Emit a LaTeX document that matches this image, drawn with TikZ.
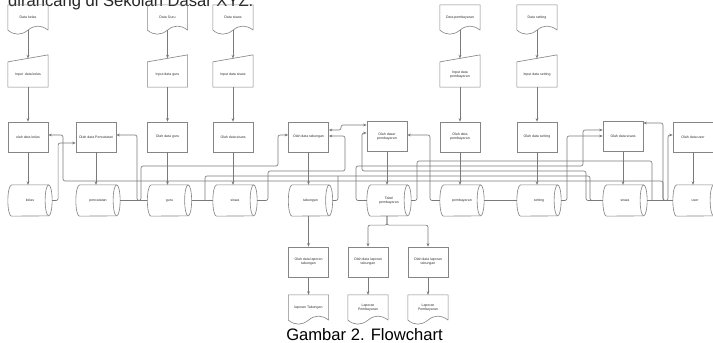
\documentclass[tikz,border=0pt]{standalone}
\usepackage{fontspec}
\setmainfont{Liberation Sans}
\usetikzlibrary{arrows.meta,calc}
\definecolor{shpcol}{HTML}{858585}
\definecolor{lncol}{HTML}{7A7A7A}
\definecolor{txtcol}{HTML}{333333}
\tikzset{
  shp/.style={draw=shpcol, line width=0.9pt},
  txt/.style={font=\fontsize{5}{5.8}\selectfont, text=txtcol, align=center, inner sep=0pt},
  proc/.style={shp, txt, minimum width=2cm, minimum height=1.5cm},
  docnode/.style={txt, minimum width=2cm, minimum height=1.25cm},
  minp/.style={txt, minimum width=2cm, minimum height=1.25cm},
  cyl/.style={txt, minimum width=2.2cm, minimum height=1.55cm},
  conn/.style={draw=lncol, line width=0.9pt, rounded corners=0.1cm, -{Stealth[length=5pt,width=4pt]}},
  link/.style={draw=lncol, line width=0.9pt, rounded corners=0.1cm},
  bigtxt/.style={inner sep=0pt, font=\fontsize{23.6}{28}\selectfont}
}
\newcommand{\docshape}[1]{\draw[shp] (#1.south east) -- (#1.north east) -- (#1.north west) -- (#1.south west) .. controls ($(#1.south west)+(6.67,5.4)$) and ($(#1.south west)+(13.33,5.4)$) .. (#1.south) .. controls ($(#1.south west)+(26.67,-5.4)$) and ($(#1.south west)+(33.33,-5.4)$) .. (#1.south east);}
\newcommand{\minshape}[1]{\draw[shp] (#1.south west) -- (#1.north west) -- ($(#1.north east)+(0,-7)$) -- (#1.south east) -- cycle;}
\newcommand{\cylshape}[1]{\draw[shp] ($(#1.north west)+(3.5,0)$) -- ($(#1.north east)+(-3.5,0)$) arc[start angle=90,end angle=-90,x radius=0.175cm,y radius=0.775cm] -- ($(#1.south west)+(3.5,0)$) arc[start angle=270,end angle=90,x radius=0.175cm,y radius=0.775cm] -- cycle;
\draw[shp] ($(#1.north east)+(-3.5,0)$) arc[start angle=90,end angle=270,x radius=0.175cm,y radius=0.775cm];}
\begin{document}
\begin{tikzpicture}[x=0.05cm,y=-0.05cm]
\useasboundingbox (0,0) rectangle (713,343);
\fill[white] (0,0) rectangle (713,343);
\node[bigtxt, anchor=base west, text=black!85] (title) at (8,6) {dirancang di Sekolah Dasar XYZ.};
\node[bigtxt, anchor=base, text=black] (cap) at (364.5,340) {Gambar 2. Flowchart};

% documents
\node[docnode] (dKelas) at (28,17.5) {Data kelas};
\node[docnode] (dGuru) at (167.5,17.5) {Data Guru};
\node[docnode] (dSiswa) at (233,17.5) {Data siswa};
\node[docnode] (dPemb) at (460,17.5) {Data pembayaran};
\node[docnode] (dSet) at (537,17.5) {Data setting};
\foreach \n in {dKelas,dGuru,dSiswa,dPemb,dSet}{\docshape{\n}}

% manual inputs
\node[minp] (iKelas) at (28,74.5) {Input \ data kelas};
\node[minp] (iGuru) at (167.5,74.5) {Input data guru};
\node[minp] (iSiswa) at (233,74.5) {Input data siswa};
\node[minp] (iPemb) at (460,74.5) {Input data\\pembayaran};
\node[minp] (iSet) at (537,74.5) {Input data setting};
\foreach \n in {iKelas,iGuru,iSiswa,iPemb,iSet}{\minshape{\n}}

% processes
\node[proc] (pKelas) at (28,137) {olah data kelas};
\node[proc] (pPen) at (96,137) {Olah data Pencatatan};
\node[proc] (pGuru) at (167.5,137) {Olah data guru};
\node[proc] (pSiswa) at (233,137) {Olah data siswa};
\node[proc] (pTab) at (308.5,137) {Olah data tabungan};
\node[proc] (pDasar) at (387,136.5) {Olah dasar\\pembayaran};
\node[proc] (pPemb) at (460,137) {Olah data\\pembayaran};
\node[proc] (pSet) at (537,137) {Olah data setting};
\node[proc] (pS2) at (623,136.5) {Olah data siswa};
\node[proc] (pUser) at (693,137) {Olah data user};

% cylinders
\node[cyl] (cKelas) at (30,200.5) {kelas};
\node[cyl] (cPen) at (98,200.5) {pencatatan};
\node[cyl] (cGuru) at (169.5,200.5) {guru};
\node[cyl] (cSiswa) at (235,200.5) {siswa};
\node[cyl] (cTab) at (310.5,200.5) {tabungan};
\node[cyl] (cTabel) at (389,200.5) {Tabel\\pembayaran};
\node[cyl] (cPemb) at (462,200.5) {pembayaran};
\node[cyl] (cSet) at (539,200.5) {setting};
\node[cyl] (cS2) at (625,200.5) {siswa};
\node[cyl] (cUser) at (695,200.5) {user};
\foreach \n in {cKelas,cPen,cGuru,cSiswa,cTab,cTabel,cPemb,cSet,cS2,cUser}{\cylshape{\n}}

% report part
\node[proc] (pLapT) at (308.5,262) {Olah data laporan\\tabungan};
\node[proc] (pLap1) at (368,262) {Olah data laporan\\tabungan};
\node[proc] (pLap2) at (428,262) {Olah data laporan\\tabungan};
\node[docnode] (dLapT) at (308.5,307.5) {laporan Tabungan};
\node[docnode] (dLap1) at (368,307.5) {Laporan\\Pembayaran};
\node[docnode] (dLap2) at (428,307.5) {Laporan\\Pembayaran};
\foreach \n in {dLapT,dLap1,dLap2}{\docshape{\n}}

% vertical flows
\foreach \c in {Kelas,Guru,Siswa,Pemb,Set}{
  \draw[conn] (d\c.south) -- ($(i\c.north)+(0,-3.5)$);
  \draw[conn] (i\c.south) -- (p\c.north);
}
\foreach \p/\c in {pKelas/cKelas,pPen/cPen,pGuru/cGuru,pSiswa/cSiswa,pTab/cTab,pDasar/cTabel,pPemb/cPemb,pSet/cSet,pS2/cS2,pUser/cUser}{
  \draw[conn] (\p.south) -- (\p.south |- \c.north);
}
\draw[conn] (pLapT.north |- cTab.south) -- (pLapT.north);
\draw[conn] (pDasar.south |- cTabel.south) -- ++(0,9) -| (pLap1.north);
\draw[conn] (pDasar.south |- cTabel.south) -- ++(0,9) -| (pLap2.north);
\draw[conn] (pLapT.south) -- (dLapT.north);
\draw[conn] (pLap1.south) -- (dLap1.north);
\draw[conn] (pLap2.south) -- (dLap2.north);

% side connectors
\draw[conn] (cKelas.east) -- ++(6,0) |- ($(pPen.west)+(0,6)$);
\draw[conn] (cGuru.west) -- (137,200.5) |- ($(pPen.east)+(0,-2)$);
\draw[conn] (cPen.east) -- (141,200.5) -- (141,166) -- (278,166) |- ($(pTab.west)+(0,-2)$);
\draw[conn] (cSiswa.east) -- (268,200.5) -- (268,171) -- (345,171) |- ($(pTab.east)+(0,-1)$);
\draw[link] (cGuru.east) -- (cSiswa.west);
\draw[link] (205,200.5) -- (205,176) -- (590,176) -- (590,200.5) -- (cS2.west);
\draw[link] (cTab.east) -- (338,200.5) -- (338,176);
\draw[conn] (cUser.west) -- (663,200.5) -- (663,181) -- (63,181) |- ($(pKelas.east)+(0,-2)$);
\draw[conn] (cUser.west) -- (663,200.5) |- ($(pS2.east)+(0,-13.5)$);
\draw[conn] (cS2.east) -- (668,200.5) |- ($(pUser.west)+(0,-2)$);
\draw[conn] (cSet.east) -- (567,200.5) |- ($(pS2.west)+(0,-0.5)$);
\draw[conn] (cTabel.west) -- (356,200.5) -- (356,166) -- (583,166) |- ($(pS2.west)+(0,-6.5)$);
\draw[conn] (cS2.west) -- (586,200.5) -- (586,171) -- (362,171) |- ($(pDasar.west)+(0,-3.5)$);
\draw[link, {Stealth[length=5pt,width=4pt]}-{Stealth[length=5pt,width=4pt]}] ($(pTab.east)+(0,-7)$) -- (341,130) -- (341,125) -- ($(pDasar.west)+(0,-11.5)$);
\draw[conn] (cPemb.west) -- (430,200.5) |- ($(pDasar.east)+(0,-1.5)$);
\draw[link] (cTabel.east) -- (417,200.5) -- (417,161) -- (652,161) -- (652,200.5);
\draw[link] (cPemb.east) -- (cSet.west);
\end{tikzpicture}
\end{document}
